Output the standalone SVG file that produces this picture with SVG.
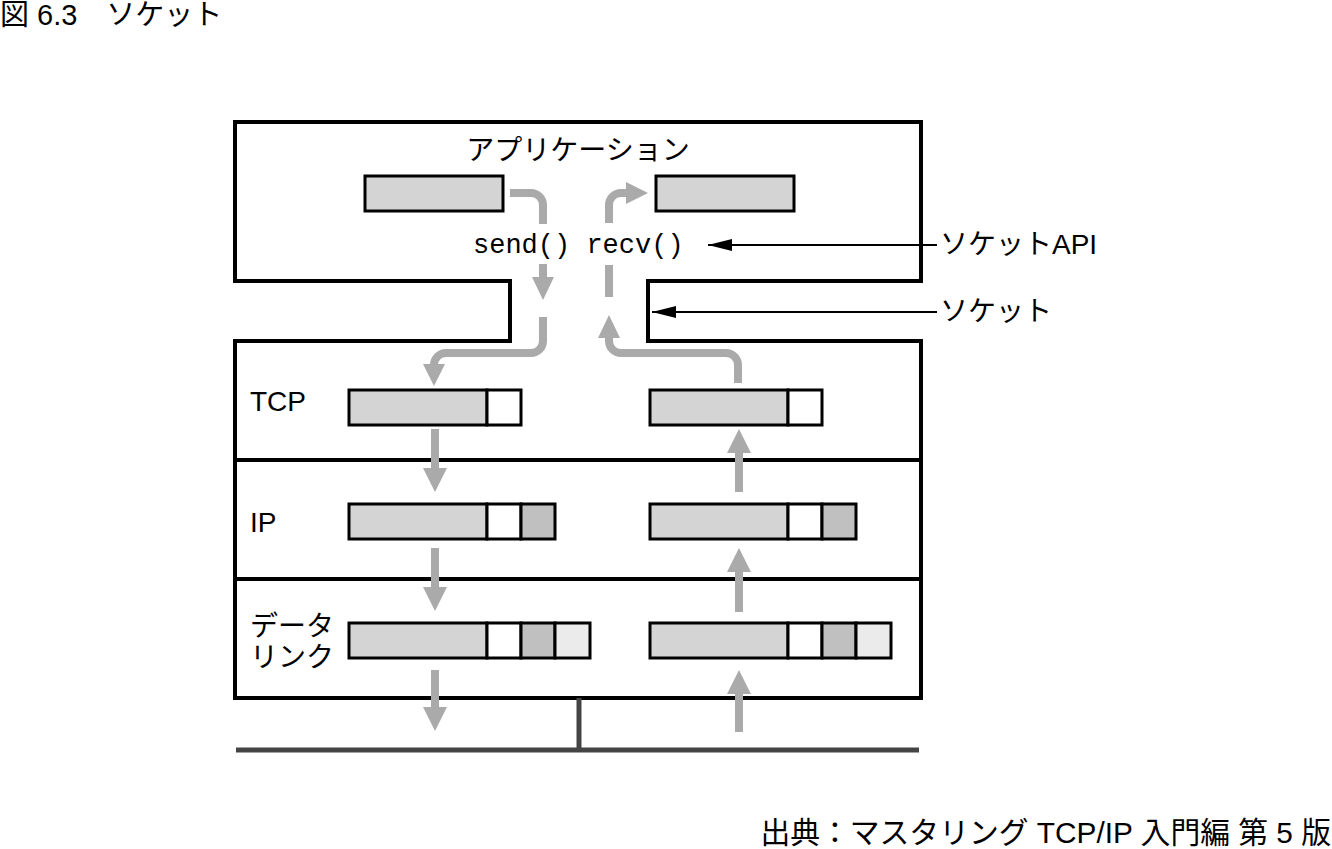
<svg xmlns="http://www.w3.org/2000/svg" width="1332" height="849" viewBox="0 0 1332 849">
<style>
.t{font-family:"Liberation Sans","Noto Sans CJK JP",sans-serif;font-size:28px;fill:#000}
.m{font-family:"Liberation Mono",monospace;font-size:27px;fill:#000}
.box{fill:none;stroke:#000;stroke-width:4}
.cell{stroke:#000;stroke-width:3}
.g1{fill:#d4d4d4}.w{fill:#fff}.g2{fill:#c0c0c0}.g3{fill:#ebebeb}
.flow{fill:none;stroke:#aaaaaa;stroke-width:8}
.head{fill:#aaaaaa}
.lead{stroke:#000;stroke-width:2}
</style>
<defs>
<marker id="ah" markerWidth="24" markerHeight="12" refX="24" refY="6" orient="auto" markerUnits="userSpaceOnUse">
<path d="M0,0 L24,6 L0,12 Z" fill="#000"/>
</marker>
</defs>
<rect width="1332" height="849" fill="#fff"/>
<text class="t" x="0" y="25" style="font-size:29px">図 6.3　ソケット</text>
<text class="t" x="1331" y="843" text-anchor="end" style="font-size:29.8px">出典：マスタリング TCP/IP 入門編 第 5 版</text>

<g id="stack">
<path class="box" d="M235,122 H921 V281 H648 V341 H921 V698 H235 V341 H510 V281 H235 Z"/>
<line class="box" x1="235" y1="460" x2="921" y2="460"/>
<line class="box" x1="235" y1="579" x2="921" y2="579"/>
<text class="t" x="578" y="160" text-anchor="middle">アプリケーション</text>
<text class="t" x="250" y="411">TCP</text>
<text class="t" x="250" y="532">IP</text>
<text class="t" x="250" y="636">データ</text>
<text class="t" x="250" y="667">リンク</text>
<text class="m" x="473" y="253" xml:space="preserve">send() recv()</text>
</g>

<g id="app-buffers">
<rect class="cell g1" x="365" y="176" width="138" height="35"/>
<rect class="cell g1" x="656" y="176" width="138" height="35"/>
</g>

<g id="tcp-send">
<rect class="cell g1" x="349" y="390" width="138" height="35"/>
<rect class="cell w" x="487" y="390" width="34" height="35"/>
</g>
<g id="tcp-recv">
<rect class="cell g1" x="650" y="390" width="138" height="35"/>
<rect class="cell w" x="788" y="390" width="34" height="35"/>
</g>
<g id="ip-send">
<rect class="cell g1" x="349" y="504" width="138" height="35"/>
<rect class="cell w" x="487" y="504" width="34" height="35"/>
<rect class="cell g2" x="521" y="504" width="34" height="35"/>
</g>
<g id="ip-recv">
<rect class="cell g1" x="650" y="504" width="138" height="35"/>
<rect class="cell w" x="788" y="504" width="34" height="35"/>
<rect class="cell g2" x="822" y="504" width="34" height="35"/>
</g>
<g id="dl-send">
<rect class="cell g1" x="349" y="623" width="138" height="35"/>
<rect class="cell w" x="487" y="623" width="34" height="35"/>
<rect class="cell g2" x="521" y="623" width="34" height="35"/>
<rect class="cell g3" x="555" y="623" width="35" height="35"/>
</g>
<g id="dl-recv">
<rect class="cell g1" x="650" y="623" width="138" height="35"/>
<rect class="cell w" x="788" y="623" width="34" height="35"/>
<rect class="cell g2" x="822" y="623" width="34" height="35"/>
<rect class="cell g3" x="856" y="623" width="35" height="35"/>
</g>

<g id="network">
<line x1="579" y1="698" x2="579" y2="750" stroke="#444" stroke-width="5"/>
<line x1="236" y1="750" x2="919" y2="750" stroke="#444" stroke-width="5"/>
</g>

<g id="labels">
<text class="t" x="940" y="254">ソケットAPI</text>
<text class="t" x="940" y="321">ソケット</text>
</g>

<g id="connectors">
<line class="lead" x1="937" y1="245" x2="708" y2="245" marker-end="url(#ah)"/>
<line class="lead" x1="937" y1="312" x2="652" y2="312" marker-end="url(#ah)"/>

<path class="flow" d="M510,193 H531 A12,12 0 0 1 543,205 V224"/>
<path class="flow" d="M543,264 V280"/>
<polygon class="head" points="532,277 554,277 543,300"/>
<path class="flow" d="M543,317 V341 A12,12 0 0 1 531,353 H446 A12,12 0 0 0 434,365 V367"/>
<polygon class="head" points="423,364 445,364 434,386"/>

<path class="flow" d="M738,383 V365 A12,12 0 0 0 726,353 H621 A12,12 0 0 1 609,341 V336"/>
<polygon class="head" points="598,338 620,338 609,315"/>
<path class="flow" d="M609,265 V297"/>
<path class="flow" d="M609,223 V205 A12,12 0 0 1 621,193 H628"/>
<polygon class="head" points="626,182 626,204 648,193"/>

<path class="flow" d="M435,429 V470"/>
<polygon class="head" points="423,468 447,468 435,492"/>
<path class="flow" d="M435,548 V589"/>
<polygon class="head" points="423,587 447,587 435,611"/>
<path class="flow" d="M435,670 V710"/>
<polygon class="head" points="423,707 447,707 435,731"/>

<path class="flow" d="M739,492 V451"/>
<polygon class="head" points="727,453 751,453 739,429"/>
<path class="flow" d="M739,612 V570"/>
<polygon class="head" points="727,572 751,572 739,548"/>
<path class="flow" d="M739,732 V692"/>
<polygon class="head" points="727,694 751,694 739,670"/>
</g>
</svg>
